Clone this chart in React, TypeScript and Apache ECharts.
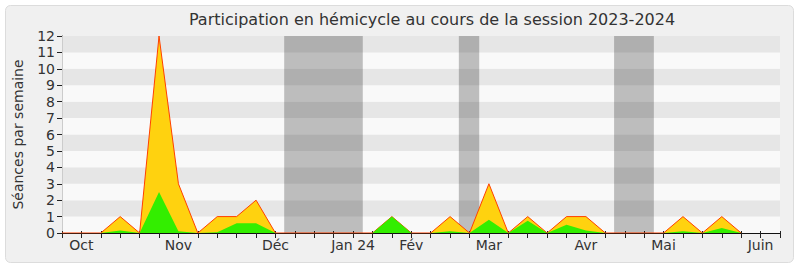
import React, { useEffect, useRef } from "react";
import * as echarts from "echarts";

const weekIndex: number[] = Array.from({ length: 36 }, (_, i) => i);
const totalSeances: number[] = [0, 0, 0, 1, 0, 12, 3, 0, 1, 1, 2, 0, 0, 0, 0, 0, 0, 1, 0, 0, 1, 0, 3, 0, 1, 0, 1, 1, 0, 0, 0, 0, 1, 0, 1, 0];
const presentSeances: number[] = [0, 0, 0, 0.15, 0, 2.5, 0.1, 0, 0.05, 0.6, 0.6, 0, 0, 0, 0, 0, 0, 1, 0, 0, 0.1, 0, 0.8, 0, 0.75, 0, 0.5, 0.15, 0, 0, 0, 0, 0.1, 0, 0.3, 0];
const monthLabels: Record<number, string> = { 1: "Oct", 6: "Nov", 11: "Déc", 15: "Jan 24", 18: "Fév", 22: "Mar", 27: "Avr", 31: "Mai", 36: "Juin" };
const vacations: [number, number][] = [[11.45, 15.5], [20.45, 21.5], [28.45, 30.5]];

const FONT = "DejaVu Sans";

export default function App() {
  const ref = useRef<HTMLDivElement>(null);
  useEffect(() => {
    if (!ref.current) return;
    const chart = echarts.init(ref.current, undefined, { renderer: "svg" });
    const totalData = weekIndex.map((i) => [i, totalSeances[i]]);
    const presentData = weekIndex.map((i) => [i, presentSeances[i]]);
    chart.setOption({
      animation: false,
      backgroundColor: "#ffffff",
      graphic: [
        {
          type: "rect",
          z: -10,
          silent: true,
          shape: { x: 5.5, y: 5.5, width: 788, height: 257, r: 5 },
          style: { fill: "#f0f0f0", stroke: "#dcdcdc", lineWidth: 1 },
        },
      ],
      title: {
        text: "Participation en hémicycle au cours de la session 2023-2024",
        left: 427,
        top: 6,
        textAlign: "center",
        textStyle: { fontFamily: FONT, fontSize: 16, fontWeight: "normal", color: "#333333" },
      },
      grid: { left: 62, right: 20, top: 36, bottom: 34, containLabel: false, show: true, borderWidth: 0, backgroundColor: "#f9f9f9" },
      xAxis: [
        {
          type: "value",
          min: 0,
          max: 37,
          interval: 1,
          position: "bottom",
          splitLine: { show: false },
          axisLine: { show: true, lineStyle: { color: "#111111", width: 1 } },
          axisTick: { show: true, length: 5, lineStyle: { color: "#222222" } },
          axisLabel: {
            fontFamily: FONT,
            fontSize: 14,
            color: "#333333",
            margin: 5,
            showMinLabel: true,
            showMaxLabel: true,
            formatter: (v: number) => monthLabels[v] ?? "",
          },
        },
        {
          type: "value",
          min: 0,
          max: 37,
          interval: 1,
          position: "top",
          splitLine: { show: false },
          axisLine: { show: false },
          axisTick: { show: true, length: 2, lineStyle: { color: "#222222" } },
          axisLabel: { show: false },
        },
      ],
      yAxis: [
        {
          type: "value",
          min: 0,
          max: 12,
          interval: 1,
          name: "Séances par semaine",
          nameLocation: "middle",
          nameGap: 37,
          nameTextStyle: { fontFamily: FONT, fontSize: 14, color: "#333333" },
          axisLine: { show: true, lineStyle: { color: "#111111" } },
          axisTick: { show: true, length: 5, lineStyle: { color: "#222222" } },
          axisLabel: { fontFamily: FONT, fontSize: 14, color: "#333333", margin: 7 },
          splitLine: { show: false },
          splitArea: { show: true, areaStyle: { color: ["#f9f9f9", "#e6e6e6"] } },
        },
        {
          type: "value",
          min: 0,
          max: 12,
          interval: 1,
          position: "right",
          axisLine: { show: true, lineStyle: { color: "#cccccc" } },
          axisTick: { show: false },
          axisLabel: { show: false },
          splitLine: { show: false },
        },
      ],
      series: [
        {
          type: "line",
          data: totalData,
          symbol: "none",
          lineStyle: { color: "#ff4000", width: 1 },
          areaStyle: { color: "#ffd20f", opacity: 1 },
          z: 3,
          markArea: {
            silent: true,
            itemStyle: { color: "rgba(0,0,0,0.24)" },
            data: vacations.map(([a, b]) => [{ xAxis: a }, { xAxis: b }]),
          },
        },
        {
          type: "line",
          data: presentData,
          symbol: "none",
          lineStyle: { width: 0, opacity: 0 },
          areaStyle: { color: "#33ee00", opacity: 1 },
          z: 4,
        },
      ],
    });
    return () => chart.dispose();
  }, []);
  return <div ref={ref} style={{ position: "fixed", left: 0, top: 0, width: 800, height: 267 }} />;
}
